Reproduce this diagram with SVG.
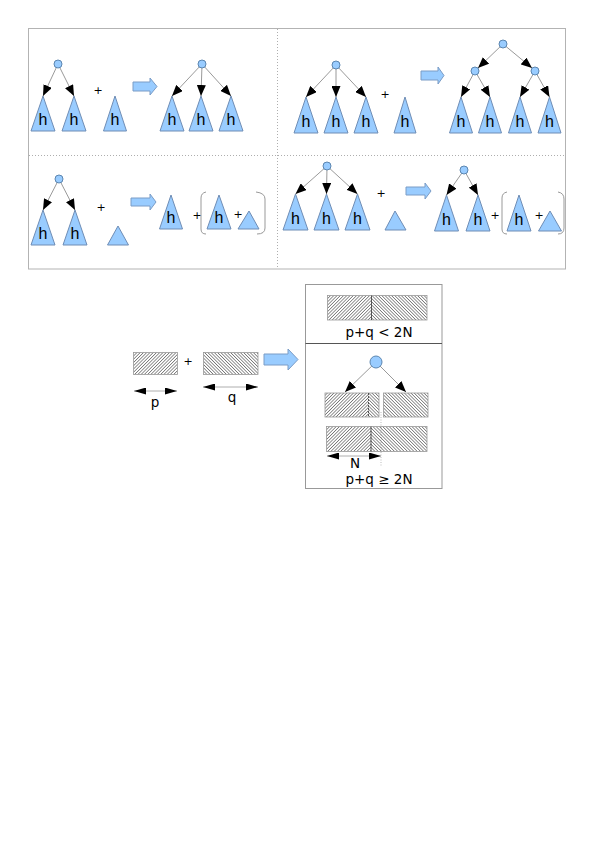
<svg xmlns="http://www.w3.org/2000/svg" width="595" height="842" viewBox="0 0 595 842">
<style>
.tri{fill:#99ccff;stroke:#6f8db5;stroke-width:1}
.nd{fill:#99ccff;stroke:#5c86b0;stroke-width:1}
.big{fill:#99ccff;stroke:#7a9cc6;stroke-width:1}
.h{font-family:"Liberation Sans",Arial,sans-serif;font-size:16px;text-anchor:middle;fill:#000}
.pl{font-family:"DejaVu Sans",sans-serif;font-size:11px;text-anchor:middle;fill:#000}
.lb{font-family:"DejaVu Sans",sans-serif;font-size:13.5px;text-anchor:middle;fill:#000}
.cn{stroke:#7f7f7f;stroke-width:0.8;fill:none;marker-end:url(#ah)}
.dbl{stroke:#999;stroke-width:0.8;fill:none;marker-start:url(#dh);marker-end:url(#dh)}
.br{stroke:#999;stroke-width:1;fill:none}
.hr{stroke:#999;stroke-width:0.8}
</style>
<defs>
<marker id="ah" markerUnits="userSpaceOnUse" markerWidth="11" markerHeight="9" refX="11" refY="4.5" orient="auto"><path d="M0,0 L11,4.5 L0,9 Z" fill="#000"/></marker>
<marker id="dh" markerUnits="userSpaceOnUse" markerWidth="12" markerHeight="7" refX="12" refY="3.5" orient="auto-start-reverse"><path d="M0,0 L12,3.5 L0,7 Z" fill="#000"/></marker>
<pattern id="hs" patternUnits="userSpaceOnUse" width="2.3" height="4" patternTransform="rotate(45)"><line x1="1.15" y1="0" x2="1.15" y2="4" stroke="#555" stroke-width="0.7"/></pattern>
<pattern id="hb" patternUnits="userSpaceOnUse" width="2.3" height="4" patternTransform="rotate(-45)"><line x1="1.15" y1="0" x2="1.15" y2="4" stroke="#555" stroke-width="0.7"/></pattern>
</defs>
<rect width="595" height="842" fill="#fff"/>

<g id="frame">
<rect x="28.5" y="28.5" width="537" height="240.5" fill="none" stroke="#b3b3b3" stroke-width="1"/>
<line x1="277.5" y1="29" x2="277.5" y2="268" stroke="#999" stroke-width="0.8" stroke-dasharray="1,2"/>
<line x1="29" y1="155.5" x2="565" y2="155.5" stroke="#999" stroke-width="0.8" stroke-dasharray="1,2"/>
</g>

<!-- triangles: top-left -->
<g id="tl-t1"><polygon class="tri" points="43,96 31,131 55,131"/><text class="h" x="43" y="125">h</text></g>
<g id="tl-t2"><polygon class="tri" points="74,96 62,131 86,131"/><text class="h" x="74" y="125">h</text></g>
<g id="tl-t3"><polygon class="tri" points="115,96 103.5,131 126.5,131"/><text class="h" x="115" y="125">h</text></g>
<g id="tl-t4"><polygon class="tri" points="172,96 160,131 184,131"/><text class="h" x="172" y="125">h</text></g>
<g id="tl-t5"><polygon class="tri" points="201,96 189,131 213,131"/><text class="h" x="201" y="125">h</text></g>
<g id="tl-t6"><polygon class="tri" points="231,96 219,131 243,131"/><text class="h" x="231" y="125">h</text></g>
<!-- top-right -->
<g id="tr-t1"><polygon class="tri" points="306,97 294,133 318,133"/><text class="h" x="306" y="127">h</text></g>
<g id="tr-t2"><polygon class="tri" points="336,97 324,133 348,133"/><text class="h" x="336" y="127">h</text></g>
<g id="tr-t3"><polygon class="tri" points="366,97 354,133 378,133"/><text class="h" x="366" y="127">h</text></g>
<g id="tr-t4"><polygon class="tri" points="405,97 394,133 416,133"/><text class="h" x="405" y="127">h</text></g>
<g id="tr-t5"><polygon class="tri" points="461,97 449.5,133 472.5,133"/><text class="h" x="461" y="127">h</text></g>
<g id="tr-t6"><polygon class="tri" points="490,97 478.5,133 501.5,133"/><text class="h" x="490" y="127">h</text></g>
<g id="tr-t7"><polygon class="tri" points="520,97 508.5,133 531.5,133"/><text class="h" x="520" y="127">h</text></g>
<g id="tr-t8"><polygon class="tri" points="549.5,97 538,133 561,133"/><text class="h" x="549.5" y="127">h</text></g>
<!-- bottom-left -->
<g id="bl-t1"><polygon class="tri" points="43,210 31,245 55,245"/><text class="h" x="43" y="239">h</text></g>
<g id="bl-t2"><polygon class="tri" points="75,210 63,245 87,245"/><text class="h" x="75" y="239">h</text></g>
<g id="bl-s1"><polygon class="tri" points="118,226 107.5,245 128.5,245"/></g>
<g id="bl-t3"><polygon class="tri" points="171,195 159.5,229 182.5,229"/><text class="h" x="171" y="223">h</text></g>
<g id="bl-t4"><polygon class="tri" points="219,195 207,229 231,229"/><text class="h" x="219" y="223">h</text></g>
<g id="bl-s2"><polygon class="tri" points="249,211 238,229 259,229"/></g>
<!-- bottom-right -->
<g id="br-t1"><polygon class="tri" points="295.5,194 283,230 308,230"/><text class="h" x="295.5" y="224">h</text></g>
<g id="br-t2"><polygon class="tri" points="326.5,194 314,230 339,230"/><text class="h" x="326.5" y="224">h</text></g>
<g id="br-t3"><polygon class="tri" points="357.5,194 345,230 370,230"/><text class="h" x="357.5" y="224">h</text></g>
<g id="br-s1"><polygon class="tri" points="395,211 385,230 406,230"/></g>
<g id="br-t4"><polygon class="tri" points="446.5,195 434.5,231 458.5,231"/><text class="h" x="446.5" y="225">h</text></g>
<g id="br-t5"><polygon class="tri" points="478,195 466,231 490,231"/><text class="h" x="478" y="225">h</text></g>
<g id="br-t6"><polygon class="tri" points="519,195 507,231 531,231"/><text class="h" x="519" y="225">h</text></g>
<g id="br-s2"><polygon class="tri" points="550,211 538.5,231 561.5,231"/></g>

<g id="connectors">
<line class="cn" x1="58" y1="64" x2="43" y2="96"/>
<line class="cn" x1="58" y1="64" x2="74" y2="96"/>
<line class="cn" x1="202" y1="64" x2="172" y2="96"/>
<line class="cn" x1="202" y1="64" x2="201" y2="96"/>
<line class="cn" x1="202" y1="64" x2="231" y2="96"/>
<line class="cn" x1="336" y1="65" x2="306" y2="97"/>
<line class="cn" x1="336" y1="65" x2="336" y2="97"/>
<line class="cn" x1="336" y1="65" x2="366" y2="97"/>
<line class="cn" x1="503" y1="44" x2="478" y2="68"/>
<line class="cn" x1="503" y1="44" x2="532" y2="68"/>
<line class="cn" x1="475" y1="71" x2="461" y2="97"/>
<line class="cn" x1="475" y1="71" x2="490" y2="97"/>
<line class="cn" x1="535" y1="71" x2="520" y2="97"/>
<line class="cn" x1="535" y1="71" x2="549.5" y2="97"/>
<line class="cn" x1="59" y1="179" x2="43" y2="210"/>
<line class="cn" x1="59" y1="179" x2="75" y2="210"/>
<line class="cn" x1="327" y1="166" x2="295.5" y2="194"/>
<line class="cn" x1="327" y1="166" x2="326.5" y2="194"/>
<line class="cn" x1="327" y1="166" x2="357.5" y2="194"/>
<line class="cn" x1="464" y1="170" x2="446.5" y2="195"/>
<line class="cn" x1="464" y1="170" x2="478" y2="195"/>
<line class="cn" x1="376" y1="362" x2="345" y2="392"/>
<line class="cn" x1="376" y1="362" x2="406" y2="392"/>
<line class="dbl" x1="134" y1="391" x2="177" y2="391"/>
<line class="dbl" x1="203" y1="387" x2="258" y2="387"/>
<line class="dbl" x1="327" y1="456" x2="381" y2="456"/>
</g>

<!-- circle nodes -->
<g id="tl-r1"><circle class="nd" cx="58" cy="64" r="4"/></g>
<g id="tl-r2"><circle class="nd" cx="202" cy="64" r="4"/></g>
<g id="tr-r1"><circle class="nd" cx="336" cy="65" r="4"/></g>
<g id="tr-r2"><circle class="nd" cx="503" cy="44" r="4"/></g>
<g id="tr-r3"><circle class="nd" cx="475" cy="71" r="4"/></g>
<g id="tr-r4"><circle class="nd" cx="535" cy="71" r="4"/></g>
<g id="bl-r1"><circle class="nd" cx="59" cy="179" r="4"/></g>
<g id="br-r1"><circle class="nd" cx="327" cy="166" r="4"/></g>
<g id="br-r2"><circle class="nd" cx="464" cy="170" r="4"/></g>
<g id="b-r"><circle class="nd" cx="376" cy="362" r="6"/></g>

<!-- plus signs -->
<g id="plus">
<text class="pl" x="98" y="94">+</text>
<text class="pl" x="385" y="98">+</text>
<text class="pl" x="101" y="211">+</text>
<text class="pl" x="197" y="219">+</text>
<text class="pl" x="238" y="218">+</text>
<text class="pl" x="381" y="197">+</text>
<text class="pl" x="495" y="219">+</text>
<text class="pl" x="539" y="219">+</text>
<text class="pl" x="188" y="365">+</text>
</g>

<!-- big arrows -->
<g id="arrows">
<path class="big" d="M133,82 H150 V78 L157,86.5 L150,95 V91 H133 Z"/>
<path class="big" d="M421,71 H438 V67 L444,75.5 L438,84 V80 H421 Z"/>
<path class="big" d="M131,198 H150 V194 L156,202 L150,210 V206 H131 Z"/>
<path class="big" d="M406,187 H425 V183 L431,191 L425,199 V195 H406 Z"/>
<path class="big" d="M264,354 H288 V349 L298,359.5 L288,370 V365 H264 Z"/>
</g>

<!-- brackets -->
<g id="brackets">
<path class="br" d="M206,192 Q201,193 201,198 V229 Q201,234 206,234"/>
<path class="br" d="M256,192 Q265,193 265,199 V228 Q265,234 257,234"/>
<path class="br" d="M507,192 Q502,193 502,198 V229 Q502,234 507,234"/>
<path class="br" d="M558,192 Q564,193 564,199 V228 Q564,234 558,234"/>
</g>

<!-- bottom diagram -->
<g id="rect-p"><rect x="133.5" y="352.5" width="44" height="22" fill="url(#hs)" stroke="#999" stroke-width="0.8"/></g>
<g id="rect-q"><rect x="203.5" y="352.5" width="54.5" height="22" fill="url(#hb)" stroke="#999" stroke-width="0.8"/></g>
<text class="lb" x="155" y="407" font-size="13">p</text>
<text class="lb" x="232" y="402" font-size="13">q</text>

<g id="result-box">
<rect x="305.5" y="284.5" width="136.5" height="204" fill="none" stroke="#999" stroke-width="1"/>
<line x1="305.5" y1="343.5" x2="442" y2="343.5" stroke="#555" stroke-width="1"/>
</g>
<g id="top-rect">
<rect x="327.5" y="295.5" width="44" height="24.5" fill="url(#hs)"/>
<rect x="371.5" y="295.5" width="55.5" height="24.5" fill="url(#hb)"/>
<rect x="327.5" y="295.5" width="99.5" height="24.5" fill="none" class="hr"/>
<line x1="371.5" y1="295.5" x2="371.5" y2="320" stroke="#333" stroke-width="0.8"/>
</g>
<text class="lb" x="379" y="337">p+q &lt; 2N</text>
<g id="mid-left">
<rect x="325" y="393" width="43.5" height="24" fill="url(#hs)"/>
<rect x="368.5" y="393" width="10.5" height="24" fill="url(#hb)"/>
<rect x="325" y="393" width="54" height="24" fill="none" class="hr"/>
<line x1="368.5" y1="393" x2="368.5" y2="417" stroke="#333" stroke-width="0.8" stroke-dasharray="2,1"/>
</g>
<g id="mid-right"><rect x="383.5" y="393" width="44.5" height="24" fill="url(#hb)" class="hr"/></g>
<line x1="381" y1="412" x2="381" y2="467" stroke="#aaa" stroke-width="0.8" stroke-dasharray="1,1.5"/>
<g id="bottom-rect">
<rect x="326.5" y="426.5" width="44.5" height="25" fill="url(#hs)"/>
<rect x="371" y="426.5" width="56" height="25" fill="url(#hb)"/>
<rect x="326.5" y="426.5" width="100.5" height="25" fill="none" class="hr"/>
<line x1="371" y1="426.5" x2="371" y2="451.5" stroke="#333" stroke-width="0.8"/>
</g>
<text class="lb" x="355" y="468">N</text>
<text class="lb" x="379" y="484">p+q ≥ 2N</text>
</svg>
